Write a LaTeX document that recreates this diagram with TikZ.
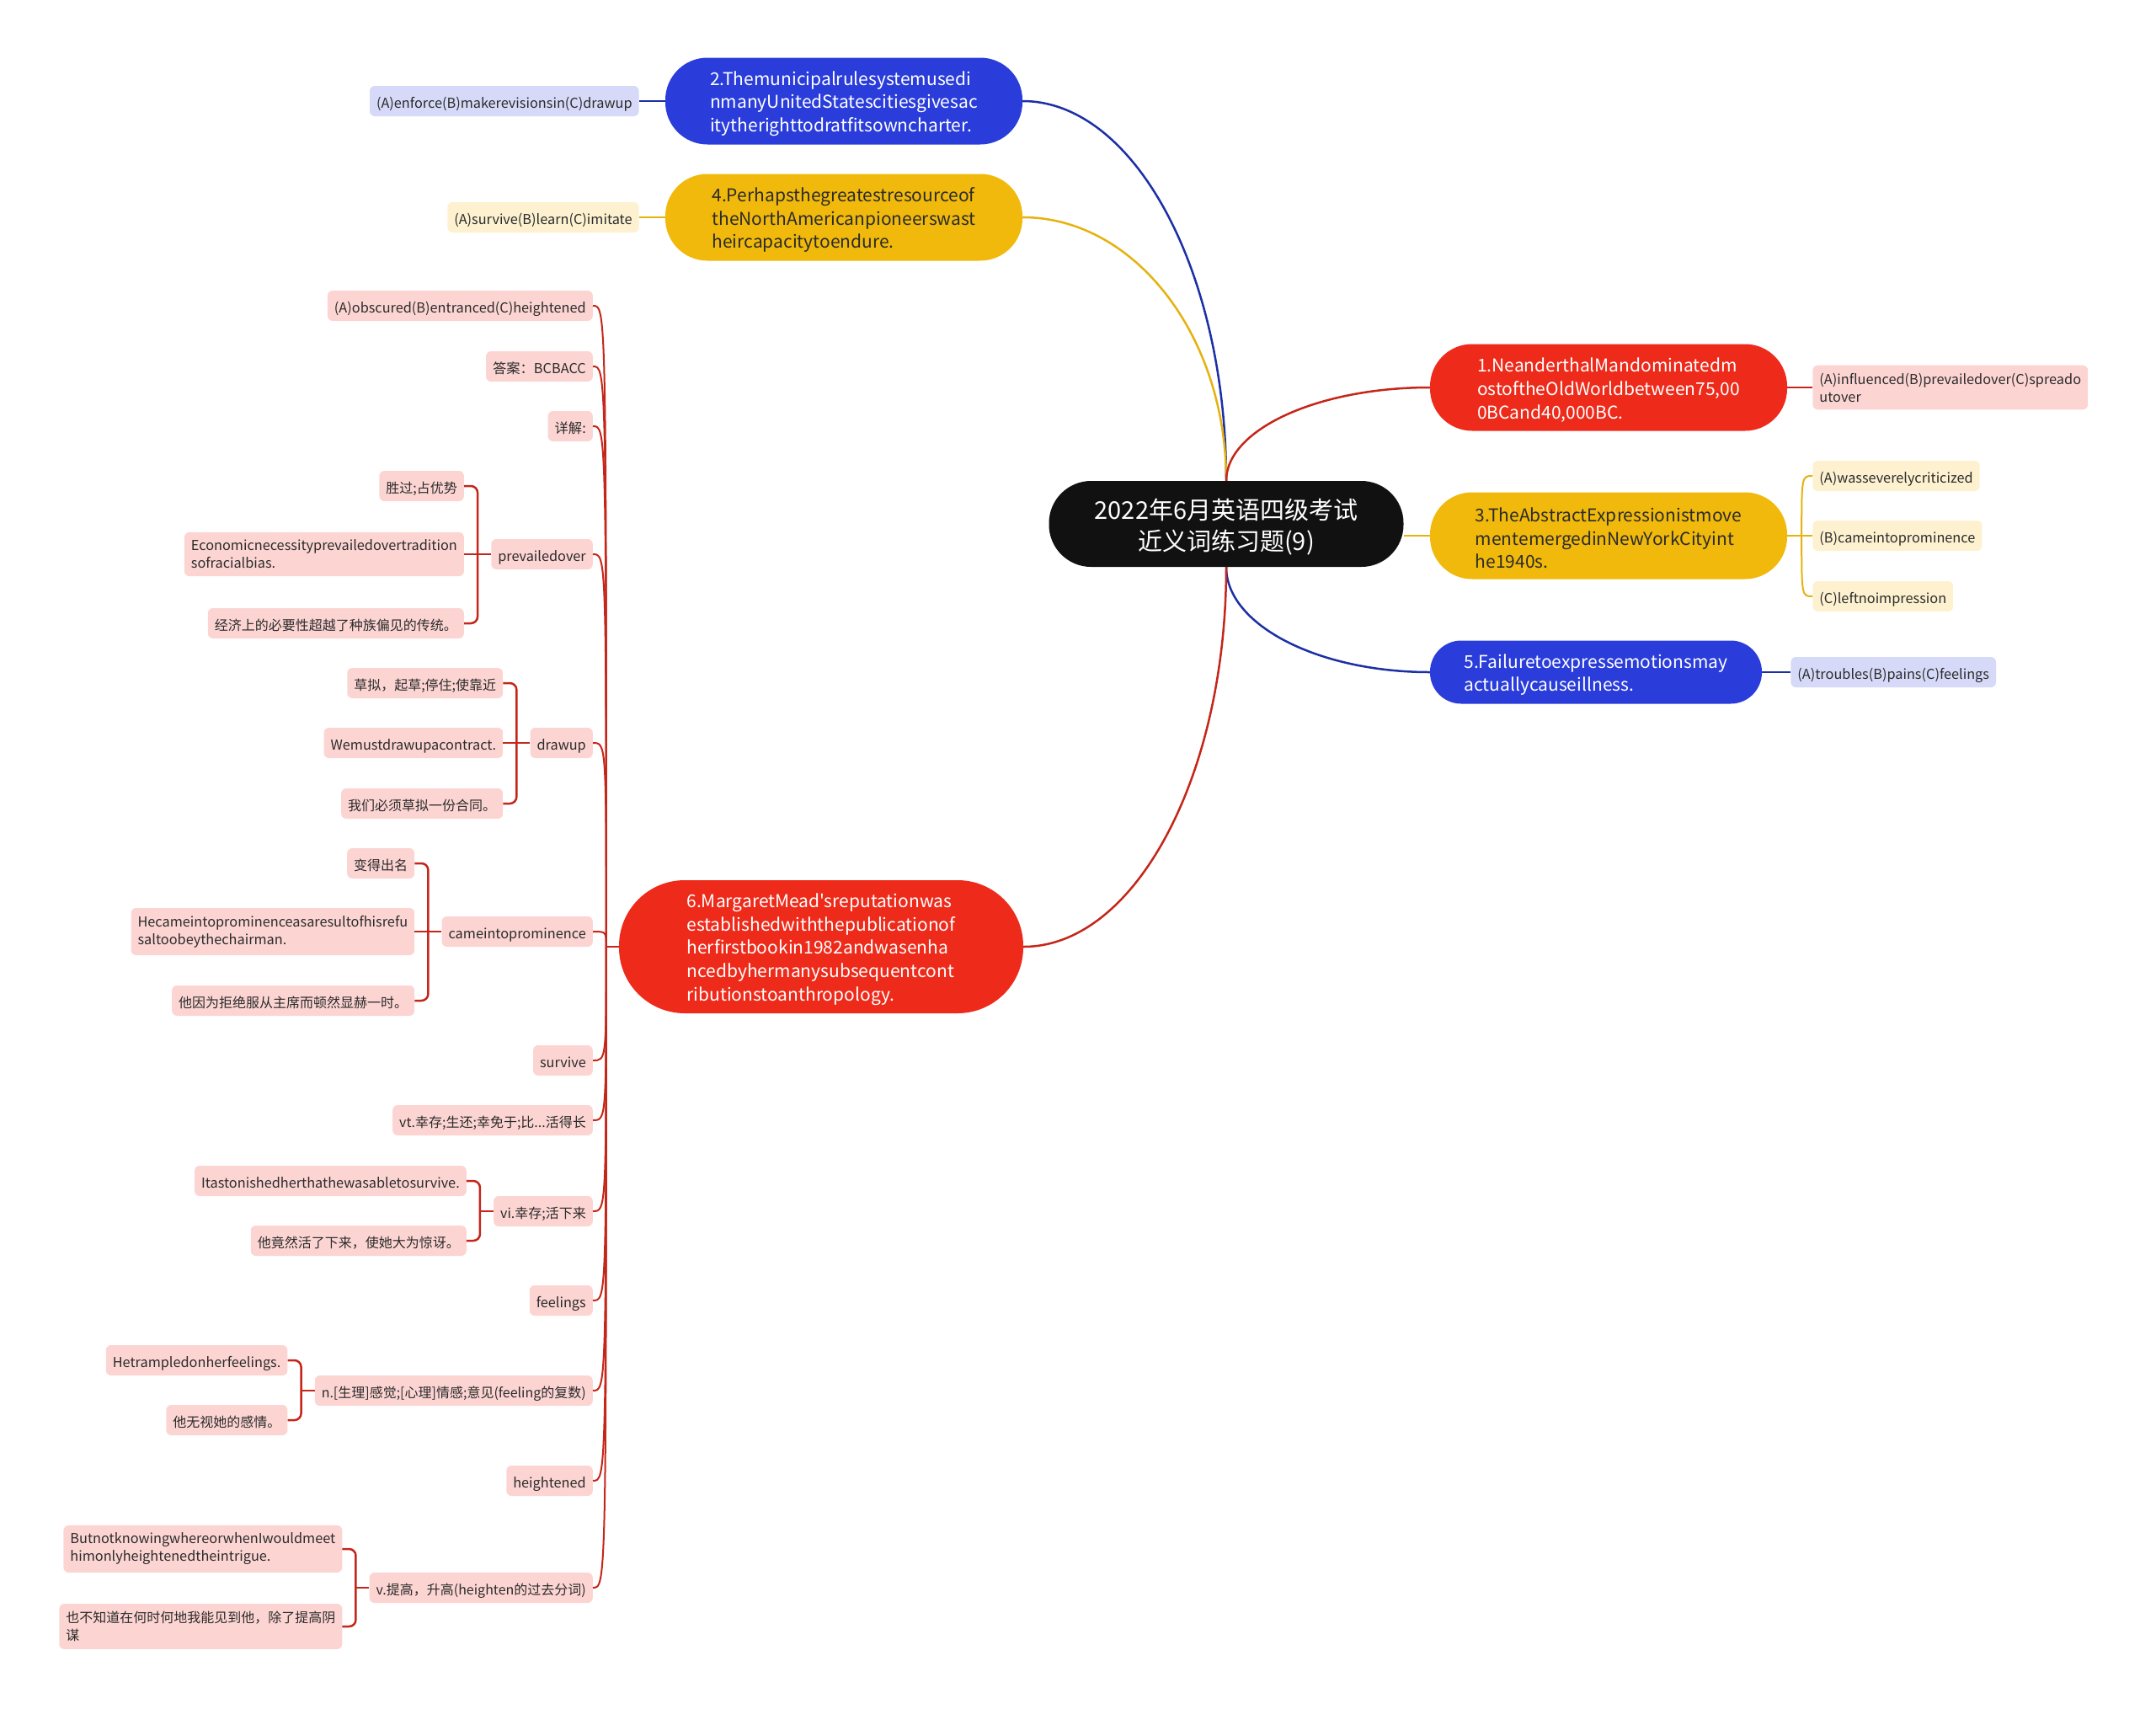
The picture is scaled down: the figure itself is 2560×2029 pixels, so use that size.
\documentclass[tikz,border=0pt]{standalone}
\usepackage{fontspec}
\setmainfont{Noto Sans CJK SC}[Ligatures=TeXOff]
\usepackage{tikz}
\usetikzlibrary{positioning,calc}
\definecolor{rootblack}{HTML}{111111}
\definecolor{topicblue}{HTML}{2A3DDB}
\definecolor{topicred}{HTML}{EE2B1B}
\definecolor{topicyellow}{HTML}{F0B90B}
\definecolor{lineblue}{HTML}{1C2FA5}
\definecolor{linered}{HTML}{C42619}
\definecolor{lineyellow}{HTML}{E5B20F}
\definecolor{leafblue}{HTML}{D6DAF8}
\definecolor{leafyellow}{HTML}{FDF1D0}
\definecolor{leafpink}{HTML}{FCD5D3}
\definecolor{inkdark}{HTML}{2B2B2B}
\newcommand{\headroom}[1]{\rule{0pt}{#1}}
\newcommand{\curvelink}[3]{%
    % #1=colour, #2=from, #3=to
    \draw[#1, line width=2.5pt] (#2) .. controls ($(#2)!0.55!(#2|-#3)$) and ($(#3)!0.55!(#2|-#3)$) .. (#3);
}
\newcommand{\hooklink}[3]{%
    % #1=colour, #2=trunk point, #3=leaf anchor
    \draw[#1, line width=2pt] (#2) .. controls (#2|-#3) .. (#3);
}
\newcommand{\forklink}[2]{%
    % #1=parent, #2=child on the left
    \draw[fork] ($(#1.west)+(-16,0)$) |- (#2.east);
}

\begin{document}
\begin{tikzpicture}[x=1pt, y=-1pt,
    rootnode/.style={rectangle, rounded corners=50pt, fill=rootblack, text=white, minimum width=421pt, minimum height=102pt, align=center, font=\fontsize{29}{37}\selectfont},
    topic/.style={rectangle, rounded corners=50pt, minimum width=424pt, minimum height=103pt, align=left, font=\fontsize{21}{27.6}\selectfont},
    leaf/.style={rectangle, rounded corners=6pt, minimum height=36pt, inner xsep=8pt, inner ysep=6pt, text height=20pt, text depth=4pt, align=left, text=inkdark, font=\fontsize{16.3}{21}\selectfont},
    twoline/.style={text height={}, text depth={}, inner ysep=9pt},
    cjk/.style={font=\fontsize{16}{21}\selectfont},
    pinkleaf/.style={leaf, fill=leafpink},
    fork/.style={linered, line width=2.5pt, rounded corners=8pt}
]
    \useasboundingbox (0,0) rectangle (2560,2029);

    % centre
    \node[rootnode] (root) at (1456,622) {\headroom{31pt}2022年6月英语四级考试\\近义词练习题(9)};

    % questions
    \node[topic, fill=topicblue, text=white] (q2) at (1002,120) {\headroom{23pt}2.Themunicipalrulesystemusedi\\nmanyUnitedStatescitiesgivesac\\itytherighttodratfitsowncharter.};
    \node[topic, fill=topicyellow, text=inkdark] (q4) at (1002,258) {\headroom{23pt}4.Perhapsthegreatestresourceof\\theNorthAmericanpioneerswast\\heircapacitytoendure.};
    \node[topic, fill=topicred, text=white] (q1) at (1910,460) {\headroom{23pt}1.NeanderthalMandominatedm\\ostoftheOldWorldbetween75,00\\0BCand40,000BC.};
    \node[topic, fill=topicyellow, text=inkdark] (q3) at (1910,636) {\headroom{23pt}3.TheAbstractExpressionistmove\\mentemergedinNewYorkCityint\\he1940s.};
    \node[topic, fill=topicblue, text=white, minimum width=394pt, minimum height=75pt, rounded corners=37pt] (q5) at (1895,798) {\headroom{23pt}5.Failuretoexpressemotionsmay\\actuallycauseillness.};
    \node[topic, fill=topicred, text=white, minimum width=480pt, minimum height=158pt, rounded corners=78pt] (q6) at (975,1124) {\headroom{23pt}6.MargaretMead'sreputationwas\\establishedwiththepublicationof\\herfirstbookin1982andwasenha\\ncedbyhermanysubsequentcont\\ributionstoanthropology.};

    \curvelink{lineblue}{root.north}{q2.east}
    \curvelink{lineyellow}{root.north}{q4.east}
    \curvelink{linered}{root.north}{q1.west}
    \draw[lineyellow, line width=2.5pt] (root.east |- q3.west) -- (q3.west);
    \curvelink{lineblue}{root.south}{q5.west}
    \curvelink{linered}{root.south}{q6.east}

    % options
    \node[leaf, fill=leafblue, left=31pt of q2] (a2) {(A)enforce(B)makerevisionsin(C)drawup};
    \node[leaf, fill=leafyellow, left=31pt of q4] (a4) {(A)survive(B)learn(C)imitate};
    \node[leaf, twoline, fill=leafpink, right=30pt of q1] (a1) {(A)influenced(B)prevailedover(C)spreado\\utover};
    \node[leaf, fill=leafyellow, anchor=west] (a3a) at ($(q3.east)+(30,-71)$) {(A)wasseverelycriticized};
    \node[leaf, fill=leafyellow, right=30pt of q3] (a3b) {(B)cameintoprominence};
    \node[leaf, fill=leafyellow, anchor=west] (a3c) at ($(q3.east)+(30,72)$) {(C)leftnoimpression};
    \node[leaf, fill=leafblue, right=34pt of q5] (a5) {(A)troubles(B)pains(C)feelings};

    \draw[lineblue, line width=2.5pt] (a2) -- (q2);
    \draw[lineyellow, line width=2.5pt] (a4.east) -- (a4.east -| q4.west);
    \draw[linered, line width=2.5pt] (q1) -- (a1);
    \coordinate (t3) at ($(q3.east)+(17,0)$);
    \draw[lineyellow, line width=2pt] (q3.east) -- (a3b.west);
    \hooklink{lineyellow}{t3}{a3a.west}
    \hooklink{lineyellow}{t3}{a3c.west}
    \draw[lineblue, line width=2.5pt] (q5) -- (a5);

    % question 6 notes
    \node[pinkleaf, anchor=east] (c1) at (704,363) {(A)obscured(B)entranced(C)heightened};
    \node[pinkleaf, anchor=east] (c2) at (704,435) {答案：BCBACC};
    \node[pinkleaf, anchor=east] (c3) at (704,506) {详解:};
    \node[pinkleaf, anchor=east] (pv) at (704,658) {prevailedover};
    \node[pinkleaf, anchor=east] (du) at (704,882) {drawup};
    \node[pinkleaf, anchor=east] (cp) at (704,1106) {cameintoprominence};
    \node[pinkleaf, anchor=east] (sv) at (704,1259) {survive};
    \node[pinkleaf, cjk, anchor=east] (vt) at (704,1330) {vt.幸存;生还;幸免于;比...活得长};
    \node[pinkleaf, cjk, anchor=east] (vi) at (704,1438) {vi.幸存;活下来};
    \node[pinkleaf, anchor=east] (fl) at (704,1544) {feelings};
    \node[pinkleaf, cjk, anchor=east] (nf) at (704,1651) {n.[生理]感觉;[心理]情感;意见(feeling的复数)};
    \node[pinkleaf, anchor=east] (ht) at (704,1758) {heightened};
    \node[pinkleaf, cjk, anchor=east] (vh) at (704,1885) {v.提高，升高(heighten的过去分词)};

    \coordinate (t6) at ($(q6.west)+(-15,0)$);
    \draw[linered, line width=2pt] (q6.west) -- (t6);
    \foreach \leafname in {c1,c2,c3,pv,du,cp,sv,vt,vi,fl,nf,ht,vh}
        {\hooklink{linered}{t6}{\leafname.east}}

    % prevailedover
    \node[pinkleaf, cjk, anchor=east] (pv1) at ($(pv.west)+(-32,-81)$) {胜过;占优势};
    \node[pinkleaf, twoline, left=32pt of pv] (pv2) {Economicnecessityprevailedovertradition\\sofracialbias.};
    \node[pinkleaf, cjk, anchor=east] (pv3) at ($(pv.west)+(-32,82)$) {经济上的必要性超越了种族偏见的传统。};
    \draw[fork] (pv.west) -- (pv2.east);
    \forklink{pv}{pv1}
    \forklink{pv}{pv3}

    % drawup
    \node[pinkleaf, cjk, anchor=east] (du1) at ($(du.west)+(-32,-71)$) {草拟，起草;停住;使靠近};
    \node[pinkleaf, left=32pt of du] (du2) {Wemustdrawupacontract.};
    \node[pinkleaf, cjk, anchor=east] (du3) at ($(du.west)+(-32,72)$) {我们必须草拟一份合同。};
    \draw[fork] (du.west) -- (du2.east);
    \forklink{du}{du1}
    \forklink{du}{du3}

    % cameintoprominence
    \node[pinkleaf, cjk, anchor=east] (cp1) at ($(cp.west)+(-32,-81)$) {变得出名};
    \node[pinkleaf, twoline, left=32pt of cp] (cp2) {Hecameintoprominenceasaresultofhisrefu\\saltoobeythechairman.};
    \node[pinkleaf, cjk, anchor=east] (cp3) at ($(cp.west)+(-32,82)$) {他因为拒绝服从主席而顿然显赫一时。};
    \draw[fork] (cp.west) -- (cp2.east);
    \forklink{cp}{cp1}
    \forklink{cp}{cp3}

    % vi.
    \node[pinkleaf, anchor=east] (vi1) at ($(vi.west)+(-32,-36)$) {Itastonishedherthathewasabletosurvive.};
    \node[pinkleaf, cjk, anchor=east] (vi2) at ($(vi.west)+(-32,35)$) {他竟然活了下来，使她大为惊讶。};
    \draw[fork] (vi.west) -- ++(-16,0);
    \forklink{vi}{vi1}
    \forklink{vi}{vi2}

    % n.
    \node[pinkleaf, anchor=east] (nf1) at ($(nf.west)+(-32,-36)$) {Hetrampledonherfeelings.};
    \node[pinkleaf, cjk, anchor=east] (nf2) at ($(nf.west)+(-32,35)$) {他无视她的感情。};
    \draw[fork] (nf.west) -- ++(-16,0);
    \forklink{nf}{nf1}
    \forklink{nf}{nf2}

    % v.
    \node[pinkleaf, twoline, anchor=east] (vh1) at ($(vh.west)+(-32,-46)$) {ButnotknowingwhereorwhenIwouldmeet\\himonlyheightenedtheintrigue.};
    \node[pinkleaf, twoline, cjk, anchor=east] (vh2) at ($(vh.west)+(-32,46)$) {也不知道在何时何地我能见到他，除了提高阴\\谋};
    \draw[fork] (vh.west) -- ++(-16,0);
    \forklink{vh}{vh1}
    \forklink{vh}{vh2}
\end{tikzpicture}
\end{document}
